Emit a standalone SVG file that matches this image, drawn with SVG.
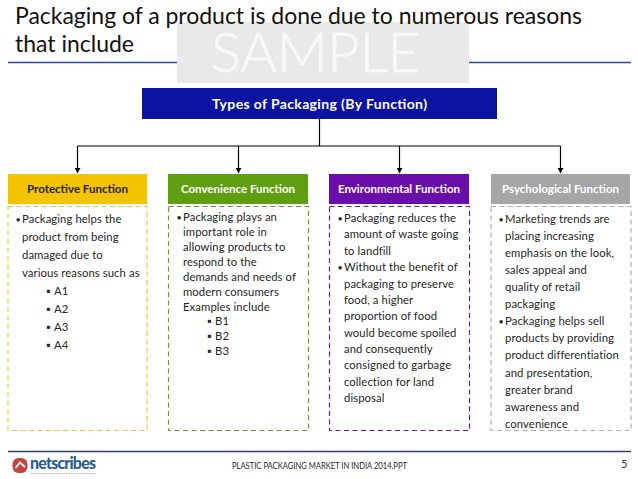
<svg xmlns="http://www.w3.org/2000/svg" width="638" height="479" viewBox="0 0 638 479">
<style>
text{font-family:Lato,"Liberation Sans",sans-serif;fill:#262626}
.t{font-size:23px;fill:#111}
.h{font-size:11.5px;font-weight:700;text-anchor:middle;fill:#fff}
.b{font-size:11.3px;letter-spacing:.08px}
.u{font-size:9px}
.s{font-size:11.500px}
.c{stroke:#000;stroke-width:1.2;fill:none}
.d{fill:#fff;stroke-width:1.2;stroke-dasharray:5 3.5}
</style>
<defs><marker id="a" markerWidth="6" markerHeight="6" refX="5" refY="3" orient="auto" markerUnits="userSpaceOnUse"><path d="M0 0L5 3L0 6Z" fill="#000"/></marker></defs>
<rect width="638" height="479" fill="#fff"/>
<g id="watermark">
<rect x="177" y="22" width="292" height="61" fill="#e9e9ea"/>
<text x="211" y="72" font-size="56" font-weight="300" style="fill:#f9f9f9;stroke:#f9f9f9;stroke-width:.7" textLength="209">SAMPLE</text>
</g>
<g id="title">
<text class="t" x="15" y="23.500" textLength="567">Packaging of a product is done due to numerous reasons</text>
<text class="t" x="15" y="51.500" textLength="119">that include</text>
<path d="M8 62.500H177M469 62.500H631" stroke="#2a45a8" stroke-width="1.300"/>
</g>
<g id="connectors">
<path class="c" d="M319.500 119V146"/>
<path class="c" d="M77.500 146H560.500"/>
<path class="c" d="M77.500 146V173" marker-end="url(#a)"/>
<path class="c" d="M238.500 146V173" marker-end="url(#a)"/>
<path class="c" d="M399.500 146V173" marker-end="url(#a)"/>
<path class="c" d="M560.500 146V173" marker-end="url(#a)"/>
</g>
<g id="root">
<rect x="142" y="88" width="355" height="31" fill="#0a14a0"/>
<text x="212" y="108.500" font-size="14" font-weight="700" style="fill:#fff" textLength="215">Types of Packaging (By Function)</text>
</g>
<g id="protective">
<rect x="8" y="174" width="139" height="30" fill="#f5c400"/>
<text class="h" x="77.500" y="193" style="fill:#222">Protective Function</text>
<rect class="d" x="8" y="206.500" width="139" height="224" stroke="#f0c828"/>
<g class="b">
<text class="u" x="15.500" y="222.500">•</text><text x="22" y="223">Packaging helps the</text>
<text x="22" y="241">product from being</text>
<text x="22" y="259">damaged due to</text>
<text x="22" y="277">various reasons such as</text>
<text class="s" x="46" y="295">▪</text><text x="54" y="295">A1</text>
<text class="s" x="46" y="313">▪</text><text x="54" y="313">A2</text>
<text class="s" x="46" y="331">▪</text><text x="54" y="331">A3</text>
<text class="s" x="46" y="349">▪</text><text x="54" y="349">A4</text>
</g>
</g>
<g id="convenience">
<rect x="168" y="174" width="140" height="30" fill="#5f9e10"/>
<text class="h" x="238" y="193">Convenience Function</text>
<rect class="d" x="168.500" y="206.500" width="140" height="224" stroke="#6a9a30"/>
<g class="b">
<text class="u" x="176.500" y="220.500">•</text><text x="183" y="221">Packaging plays an</text>
<text x="183" y="236">important role in</text>
<text x="183" y="251">allowing products to</text>
<text x="183" y="266">respond to the</text>
<text x="183" y="281">demands and needs of</text>
<text x="183" y="296">modern consumers</text>
<text x="183" y="311">Examples include</text>
<text class="s" x="207" y="325">▪</text><text x="215" y="325">B1</text>
<text class="s" x="207" y="340">▪</text><text x="215" y="340">B2</text>
<text class="s" x="207" y="355">▪</text><text x="215" y="355">B3</text>
</g>
</g>
<g id="environmental">
<rect x="329" y="174" width="140" height="30" fill="#6a0dab"/>
<text class="h" x="399" y="193">Environmental Function</text>
<rect class="d" x="329.500" y="206.500" width="140" height="224" stroke="#6a1a9a"/>
<g class="b">
<text class="u" x="337.500" y="221.500">•</text><text x="344" y="222">Packaging reduces the</text>
<text x="344" y="238">amount of waste going</text>
<text x="344" y="255">to landfill</text>
<text class="u" x="337.500" y="270.500">•</text><text x="344" y="271">Without the benefit of</text>
<text x="344" y="288">packaging to preserve</text>
<text x="344" y="304">food, a higher</text>
<text x="344" y="320">proportion of food</text>
<text x="344" y="337">would become spoiled</text>
<text x="344" y="353">and consequently</text>
<text x="344" y="369">consigned to garbage</text>
<text x="344" y="386">collection for land</text>
<text x="344" y="402">disposal</text>
</g>
</g>
<g id="psychological">
<rect x="491" y="174" width="139" height="30" fill="#a6a6a6"/>
<text class="h" x="560.500" y="193">Psychological Function</text>
<rect class="d" x="491" y="206.500" width="140" height="224" stroke="#b0b0b0"/>
<g class="b">
<text class="u" x="498.500" y="222.500">•</text><text x="505" y="223">Marketing trends are</text>
<text x="505" y="240">placing increasing</text>
<text x="505" y="257">emphasis on the look,</text>
<text x="505" y="274">sales appeal and</text>
<text x="505" y="291">quality of retail</text>
<text x="505" y="308">packaging</text>
<text class="u" x="498.500" y="324.500">•</text><text x="505" y="325">Packaging helps sell</text>
<text x="505" y="342">products by providing</text>
<text x="505" y="359">product differentiation</text>
<text x="505" y="377">and presentation,</text>
<text x="505" y="394">greater brand</text>
<text x="505" y="411">awareness and</text>
<text x="505" y="428">convenience</text>
</g>
</g>
<g id="footer">
<path d="M8 451.500H631" stroke="#34406e" stroke-width="1.300"/>
<rect x="12.500" y="458" width="15" height="15" rx="6" fill="#c8443c"/>
<path d="M15.500 468L20 462.500L25 467" fill="none" stroke="#fff" stroke-width="1.800"/>
<text x="30" y="469" font-size="16" font-weight="900" style="fill:#2f5f8f" textLength="66">netscribes</text>
<path d="M31 473.500H96" stroke="#aab2bc" stroke-width="1" stroke-dasharray="1.500 1"/>
<text x="232" y="469" font-size="8.500" textLength="175" lengthAdjust="spacingAndGlyphs">PLASTIC PACKAGING MARKET IN INDIA 2014.PPT</text>
<text x="621" y="468" font-size="11" style="fill:#333">5</text>
</g>
</svg>
